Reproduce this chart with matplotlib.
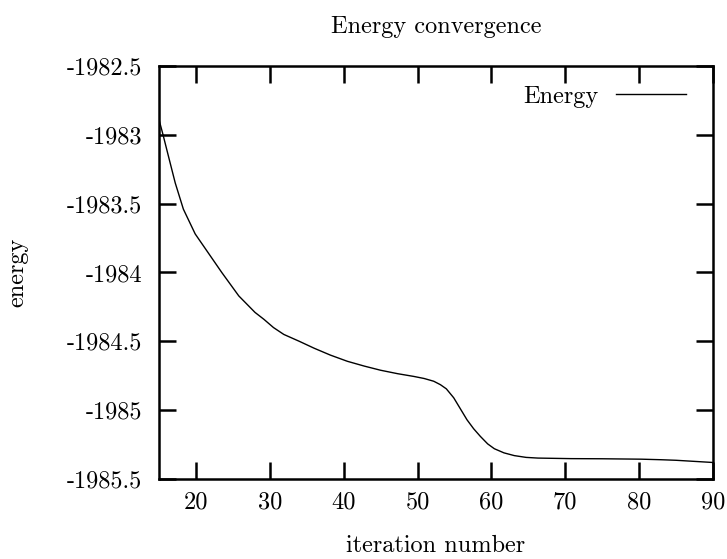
import matplotlib
matplotlib.use("Agg")
import matplotlib.pyplot as plt

plt.rcParams['font.family'] = ['cmr10', 'DejaVu Serif']
plt.rcParams['axes.unicode_minus'] = False

# iteration vs energy
iteration = [15, 15.5, 16.3, 17.2, 18.3, 19.9, 21.7, 23.5, 25.8, 28.0, 29.2, 30.5,
             31.9, 34.0, 36.0, 38.2, 40.5, 42.8, 45.0, 47.3, 49.5, 50.9, 52.2,
             53.1, 53.9, 54.9, 55.8, 56.7, 57.6, 58.5, 59.5, 60.4, 61.7, 63.1,
             64.7, 66.3, 70.8, 75.0, 80.3, 83.0, 85.0, 87.5, 90]
energy = [-1982.89, -1982.99, -1983.16, -1983.35, -1983.54, -1983.72, -1983.86,
          -1984.00, -1984.17, -1984.29, -1984.34, -1984.40,
          -1984.45, -1984.50, -1984.55, -1984.60, -1984.645, -1984.68, -1984.71,
          -1984.735, -1984.755, -1984.77, -1984.79,
          -1984.815, -1984.845, -1984.91, -1984.99, -1985.07, -1985.135, -1985.19,
          -1985.245, -1985.28, -1985.31, -1985.33,
          -1985.343, -1985.348, -1985.352, -1985.353, -1985.356, -1985.36,
          -1985.364, -1985.372, -1985.38]

xticks = [20, 30, 40, 50, 60, 70, 80, 90]
yticks = [-1982.5, -1983, -1983.5, -1984, -1984.5, -1985, -1985.5]
ylabels = ['-1982.5', '-1983', '-1983.5', '-1984', '-1984.5', '-1985', '-1985.5']

fig = plt.figure(figsize=(7.27, 5.59), dpi=100)
ax = fig.add_axes([0.2187, 0.1431, 0.762, 0.7389])

ax.plot(iteration, energy, color='black', linewidth=1.0, label='Energy')

ax.set_xlim(15, 90)
ax.set_ylim(-1985.5, -1982.5)
ax.set_xticks(xticks)
ax.set_xticklabels([str(t) for t in xticks])
ax.set_yticks(yticks)
ax.set_yticklabels(ylabels)

for s in ax.spines.values():
    s.set_linewidth(1.8)
ax.tick_params(direction='in', length=12, width=1.8, top=True, right=True,
               labelsize=17.5)
ax.tick_params(axis='y', pad=12)
ax.tick_params(axis='x', pad=9)

ax.set_title('Energy convergence', fontsize=17.5, pad=24)
ax.set_xlabel('iteration number', fontsize=17.5, labelpad=15)
ax.set_ylabel('energy', fontsize=17.5, labelpad=28)

ax.legend(loc='upper right', bbox_to_anchor=(0.987, 1.0), frameon=False,
          markerfirst=False, fontsize=17.5, handlelength=2.9,
          borderaxespad=0.4, handletextpad=0.7)

fig.savefig('out.png', dpi=100)
